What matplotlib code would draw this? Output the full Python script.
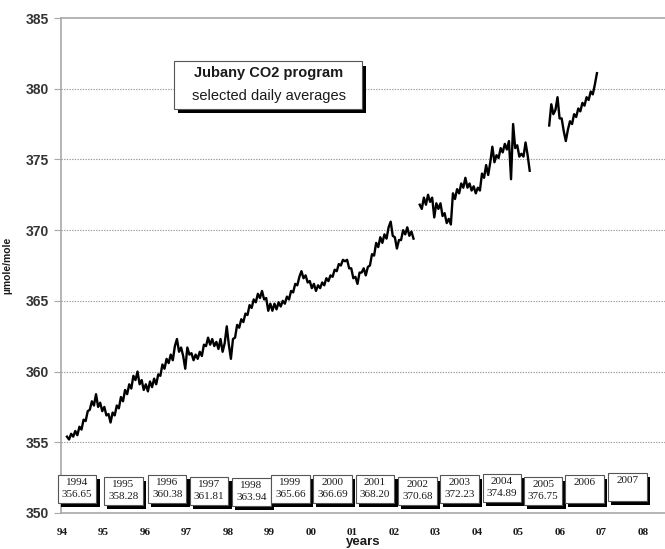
import numpy as np
import matplotlib
matplotlib.use('Agg')
import matplotlib.pyplot as plt
from matplotlib.patches import Rectangle

seg1_start = 1994.12
seg1_ppm = [
    355.4, 355.2, 355.6, 355.4, 355.8, 355.5, 356.1, 355.9, 356.6, 356.5,
    357.2, 357.3, 357.9, 357.6, 358.4, 357.5, 357.8, 357.2, 357.5, 356.9,
    357.0, 356.4, 357.1, 356.9, 357.6, 357.4, 358.2, 357.9, 358.7, 358.4,
    359.1, 358.8, 359.7, 359.4, 360.0, 359.1, 359.4, 358.7, 359.1, 358.6,
    359.3, 358.9, 359.5, 359.1, 359.8, 359.7, 360.5, 360.2, 360.9, 360.6,
    361.2, 360.8, 361.8, 362.3, 361.4, 361.7, 361.1, 360.2, 361.7, 361.2,
    361.3, 360.8, 361.2, 360.9, 361.4, 361.1, 361.9, 361.8, 362.4, 361.9,
    362.3, 361.8, 362.1, 361.6, 362.3, 361.4, 362.0, 363.2, 361.9, 360.9,
    362.3, 362.4, 363.3, 363.1, 363.7, 363.5, 364.1, 364.0, 364.7, 364.5,
    365.1, 364.9, 365.5, 365.2, 365.7, 365.1, 365.2, 364.3, 364.8, 364.3,
    364.8, 364.4, 364.9, 364.6, 365.0, 364.8, 365.3, 365.1, 365.7, 365.6,
    366.2, 366.1, 366.7, 367.1, 366.6, 366.8, 366.3, 366.4, 365.9, 366.2,
    365.7, 366.1, 365.9, 366.3, 366.1, 366.6, 366.4, 366.8, 366.7, 367.2,
    367.1, 367.6, 367.5, 367.9, 367.8, 367.9, 367.3, 367.3, 366.6, 366.7,
    366.2, 367.0, 367.0, 367.3, 366.8, 367.4, 367.5, 368.3, 368.2, 369.1,
    368.8, 369.5, 369.1, 369.7, 369.4, 370.2, 370.6, 369.6, 369.5, 368.7,
    369.3, 369.3, 370.0, 369.7, 370.2, 369.6, 369.9, 369.4,
]
seg2_start = 2002.62
seg2_ppm = [
    371.8, 371.5, 372.3, 371.8, 372.5, 372.0, 372.3, 370.9, 371.9, 371.5,
    371.9, 371.0, 371.2, 370.5, 370.8, 370.4, 372.6, 372.2, 372.9, 372.6,
    373.3, 373.0, 373.7, 373.0, 373.3, 372.8, 373.1, 372.6, 373.0, 372.8,
    374.0, 373.7, 374.6, 373.9, 374.8, 375.9, 374.8, 375.3, 375.1, 375.8,
    375.5, 376.1, 375.7, 376.3, 373.6, 377.5, 375.8, 376.0, 375.2, 375.4,
    375.2, 376.2, 375.3, 374.2,
]
seg3_start = 2005.74
seg3_ppm = [
    377.4, 378.9, 378.2, 378.5, 379.4, 377.9, 377.9, 377.0, 376.3, 377.1,
    377.7, 377.5, 378.2, 378.0, 378.6, 378.4, 379.0, 378.8, 379.4, 379.2,
    379.8, 379.6, 380.3, 381.1,
]
step = 0.05

# yearly means shown in the boxes along the bottom
box_years = [1994, 1995, 1996, 1997, 1998, 1999, 2000, 2001, 2002, 2003,
             2004, 2005, 2006, 2007]
box_means = ['356.65', '358.28', '360.38', '361.81', '363.94', '365.66',
             '366.69', '368.20', '370.68', '372.23', '374.89', '376.75', '', '']

year_ticks = list(range(1994, 2009))

# box layout (small offsets as in the original)
box_dx = [-0.10, 0.01, 0.07, 0.08, 0.10, 0.04, 0.05, 0.08, 0.10, 0.11, 0.14, 0.13, 0.12, 0.16]
box_dy = [0.04, -0.11, 0.04, -0.11, -0.18, 0.04, 0.04, 0.04, -0.11, 0.04, 0.11, -0.11, 0.04, 0.18]

text_color = '#1a1a1a'
grid_color = '#9a9a9a'
spine_color = '#a8a8a8'

fig = plt.figure(figsize=(6.65, 5.49), dpi=100)
ax = fig.add_axes([61 / 665, 1 - 513 / 549, 604 / 665, 495 / 549])

for start, vals in [(seg1_start, seg1_ppm), (seg2_start, seg2_ppm), (seg3_start, seg3_ppm)]:
    t = start + step * np.arange(len(vals))
    ax.plot(t, vals, color='black', linewidth=1.7, zorder=3)

ax.set_xlim(1993.976, 2008.53)
ax.set_ylim(350, 385)
ax.set_yticks(range(350, 386, 5))
ax.set_xticks(year_ticks)
ax.set_xticklabels([f"{y % 100:02d}" for y in year_ticks],
                   fontfamily='Liberation Serif', fontweight='bold', fontsize=8,
                   color=text_color)
for lbl in ax.get_yticklabels():
    lbl.set_fontfamily('Liberation Sans')
    lbl.set_fontweight('bold')
    lbl.set_fontsize(10)
    lbl.set_color('#333333')
ax.tick_params(axis='y', direction='out', length=5, color=spine_color, pad=4)
ax.tick_params(axis='x', length=0, pad=11)

for v in range(355, 385, 5):
    ax.axhline(v, color=grid_color, linestyle=(0, (1.2, 1.2)), linewidth=0.8, zorder=1)

ax.spines['right'].set_visible(False)
for side in ['left', 'top', 'bottom']:
    ax.spines[side].set_color(spine_color)
    ax.spines[side].set_linewidth(1.2)

ax.set_ylabel('µmole/mole', fontfamily='Liberation Sans', fontweight='bold',
              fontsize=7.5, color=text_color)
ax.yaxis.set_label_coords(-(61 - 12) / 604, 0.5)
ax.set_xlabel('years', fontfamily='Liberation Sans', fontweight='bold',
              fontsize=9.5, color=text_color)
ax.xaxis.set_label_coords(0.5, -0.047)

# yearly boxes with drop shadow
box_top = 352.65
box_h = 2.0
box_w = 0.93
for yr, mean, dx, dy in zip(box_years, box_means, box_dx, box_dy):
    left = yr + dx
    bottom = box_top + dy - box_h
    ax.add_patch(Rectangle((left + 0.08, bottom - 0.27), box_w, box_h, facecolor='black',
                           edgecolor='none', clip_on=False, zorder=4))
    ax.add_patch(Rectangle((left, bottom), box_w, box_h, facecolor='white',
                           edgecolor='#555555', linewidth=0.8, clip_on=False, zorder=5))
    ax.text(left + box_w / 2, box_top + dy - 0.55, str(yr), ha='center', va='center',
            fontfamily='Liberation Serif', fontsize=8, color=text_color, zorder=6)
    if mean:
        ax.text(left + box_w / 2, box_top + dy - 1.35, mean, ha='center', va='center',
                fontfamily='Liberation Serif', fontsize=8, color=text_color, zorder=6)

# title box
ax.add_patch(Rectangle((1996.80, 378.25), 4.53, 3.39, facecolor='black',
                       edgecolor='none', zorder=4))
ax.add_patch(Rectangle((1996.70, 378.55), 4.53, 3.39, facecolor='white',
                       edgecolor='#555555', linewidth=0.8, zorder=5))
ax.text(1998.98, 381.1, 'Jubany CO2 program', ha='center', va='center',
        fontfamily='Liberation Sans', fontweight='bold', fontsize=10.5,
        color=text_color, zorder=6)
ax.text(1998.98, 379.45, 'selected daily averages', ha='center', va='center',
        fontfamily='Liberation Sans', fontsize=10.5, color=text_color, zorder=6)

fig.savefig('out.png', dpi=100, facecolor='white')
plt.close(fig)
